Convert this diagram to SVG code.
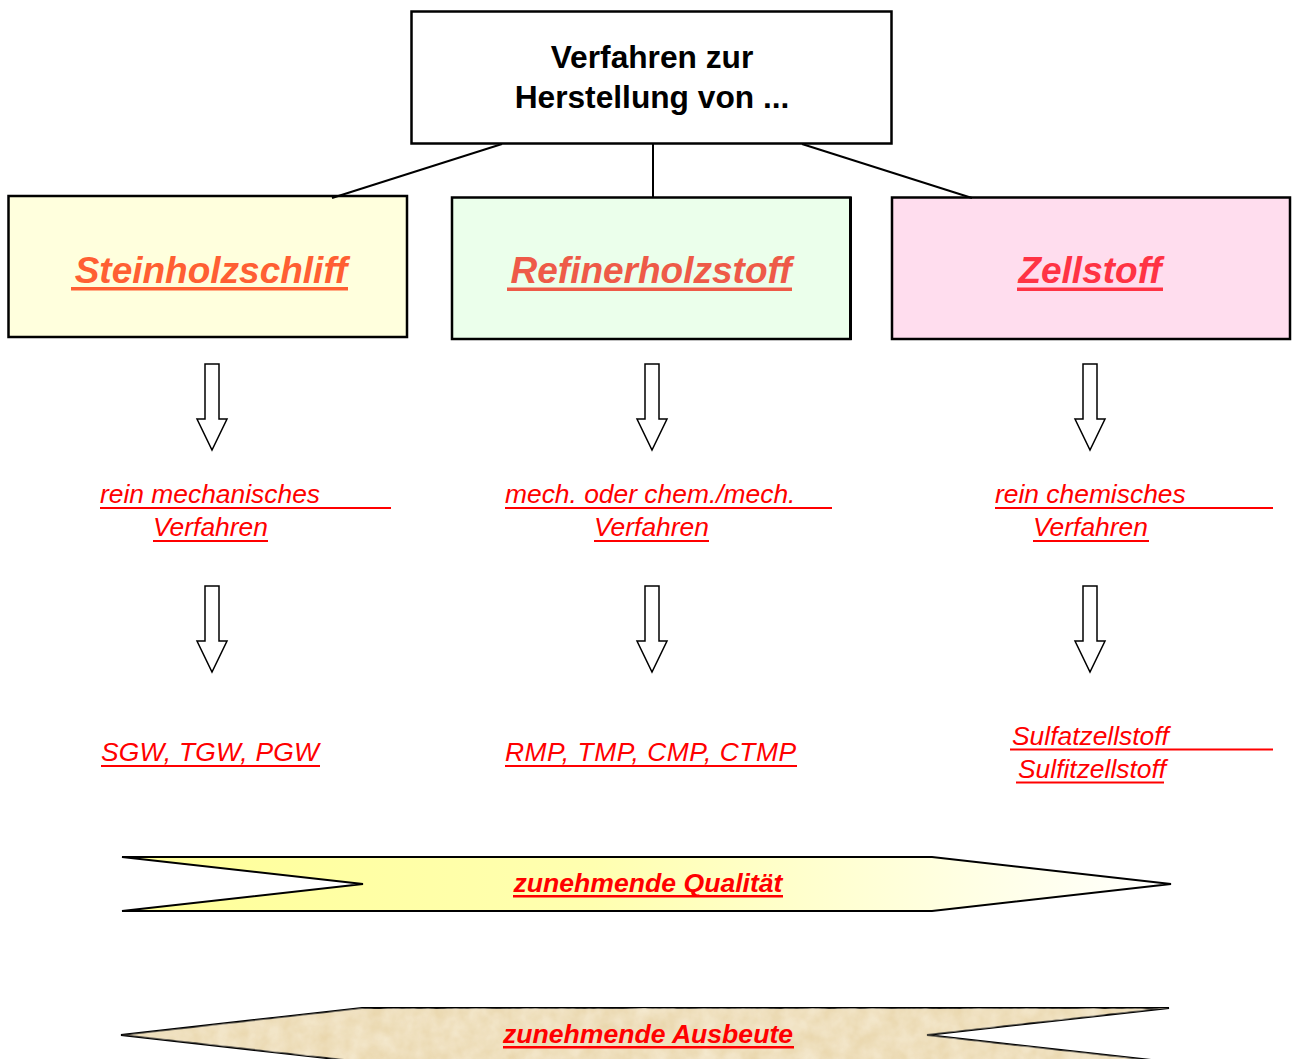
<svg xmlns="http://www.w3.org/2000/svg" width="1292" height="1059" viewBox="0 0 1292 1059">
<style>
.box{stroke:#000;stroke-width:2.5}
.title{font-family:"Liberation Sans",Arial,sans-serif;font-weight:bold;font-size:31.7px;text-anchor:middle;fill:#000}
.head{font-family:"Liberation Sans",Arial,sans-serif;font-weight:bold;font-style:italic;font-size:37px;text-anchor:middle}
.lbl{font-family:"Liberation Sans",Arial,sans-serif;font-style:italic;font-size:26.4px;fill:#FF0000}
.ul{stroke:#FF0000;stroke-width:2}
.band{font-family:"Liberation Sans",Arial,sans-serif;font-weight:bold;font-style:italic;font-size:26.6px;fill:#FF0000;text-anchor:middle}
.conn{stroke:#000;stroke-width:2;fill:none}
.harrow{fill:#fff;stroke:#000;stroke-width:1.5}
</style>
<defs>
<linearGradient id="gq" x1="0" y1="0" x2="1" y2="0">
<stop offset="0" stop-color="#FFFF99"/>
<stop offset="0.45" stop-color="#FFFFB0"/>
<stop offset="1" stop-color="#FFFFFF"/>
</linearGradient>
<filter id="paper" x="0" y="0" width="1" height="1">
<feTurbulence type="fractalNoise" baseFrequency="0.06" numOctaves="3" seed="4" result="n"/>
<feColorMatrix in="n" type="matrix" values="0 0 0 0 0.93  0 0 0 0 0.85  0 0 0 0 0.68  0 0 0 -1.2 1.1" result="c"/>
<feComposite in="c" in2="SourceGraphic" operator="in"/>
</filter>
<path id="ha" d="M-7,0 H7 V55 H15 L0,86 L-15,55 H-7 Z"/>
</defs>

<g id="top">
<rect class="box" x="411.5" y="11.5" width="480" height="132" fill="#fff"/>
<text class="title" x="652" y="68">Verfahren zur</text>
<text class="title" x="652" y="108">Herstellung von ...</text>
</g>

<g id="steinholzschliff">
<rect class="box" x="8.5" y="196" width="398.5" height="141" fill="#FFFFDD"/>
<text class="head" x="211" y="283" fill="#FF5F33">Steinholzschliff</text>
<rect x="71" y="287" width="277" height="3.5" fill="#FF5F33"/>
</g>

<g id="refinerholzstoff">
<rect class="box" x="452" y="197.5" width="398.5" height="141.5" fill="#EBFFEB"/>
<line x1="850.5" y1="197" x2="850.5" y2="340" stroke="#000" stroke-width="3"/>
<text class="head" x="651" y="283" fill="#EE5A48">Refinerholzstoff</text>
<rect x="507" y="287.5" width="285" height="3.5" fill="#EE5A48"/>
</g>

<g id="zellstoff">
<rect class="box" x="892" y="197.5" width="398" height="141.5" fill="#FFDDEE"/>
<text class="head" x="1090" y="283" fill="#FF3344">Zellstoff</text>
<rect x="1017" y="287.5" width="146" height="3.5" fill="#FF3344"/>
</g>

<g id="connectors">
<line class="conn" x1="502" y1="144" x2="332" y2="198"/>
<line class="conn" x1="653" y1="144" x2="653" y2="198"/>
<line class="conn" x1="802" y1="144" x2="972" y2="198"/>
</g>

<g id="arrows">
<use href="#ha" class="harrow" x="212" y="364"/>
<use href="#ha" class="harrow" x="652" y="364"/>
<use href="#ha" class="harrow" x="1090" y="364"/>
<use href="#ha" class="harrow" x="212" y="586"/>
<use href="#ha" class="harrow" x="652" y="586"/>
<use href="#ha" class="harrow" x="1090" y="586"/>
</g>

<g id="proc-mech">
<text class="lbl" x="100" y="503">rein mechanisches</text>
<line class="ul" x1="100" y1="508" x2="391" y2="508"/>
<text class="lbl" x="153" y="536">Verfahren</text>
<line class="ul" x1="153" y1="541" x2="268" y2="541"/>
</g>
<g id="proc-chemmech">
<text class="lbl" x="505" y="503">mech. oder chem./mech.</text>
<line class="ul" x1="505" y1="508" x2="832" y2="508"/>
<text class="lbl" x="594" y="536">Verfahren</text>
<line class="ul" x1="594" y1="541" x2="709" y2="541"/>
</g>
<g id="proc-chem">
<text class="lbl" x="995" y="503">rein chemisches</text>
<line class="ul" x1="995" y1="508" x2="1273" y2="508"/>
<text class="lbl" x="1033" y="536">Verfahren</text>
<line class="ul" x1="1033" y1="541" x2="1149" y2="541"/>
</g>

<g id="prod-sgw">
<text class="lbl" x="101" y="761" textLength="218" lengthAdjust="spacing">SGW, TGW, PGW</text>
<line class="ul" x1="101" y1="766" x2="320" y2="766"/>
</g>
<g id="prod-rmp">
<text class="lbl" x="505" y="761" textLength="291" lengthAdjust="spacing">RMP, TMP, CMP, CTMP</text>
<line class="ul" x1="505" y1="766" x2="797" y2="766"/>
</g>
<g id="prod-zell">
<text class="lbl" x="1012" y="745">Sulfatzellstoff</text>
<line class="ul" x1="1010" y1="749.5" x2="1273" y2="749.5"/>
<text class="lbl" x="1018" y="778">Sulfitzellstoff</text>
<line class="ul" x1="1016" y1="782.5" x2="1164" y2="782.5"/>
</g>

<g id="qualitaet">
<polygon points="122,857 932,857 1171,884 932,911 122,911 363,884" fill="url(#gq)" stroke="#000" stroke-width="2" stroke-linejoin="miter"/>
<text class="band" x="648" y="892">zunehmende Qualität</text>
<rect x="513" y="895" width="270" height="2.5" fill="#FF0000"/>
</g>

<g id="ausbeute">
<polygon points="121,1035 362,1008 1169,1008 927,1035 1169,1062 362,1062" fill="#E9D6AC" stroke="#000" stroke-width="2"/>
<polygon points="121,1035 362,1008 1169,1008 927,1035 1169,1062 362,1062" fill="#E9D6AC" filter="url(#paper)" opacity="0.8"/>
<text class="band" x="648" y="1043">zunehmende Ausbeute</text>
<rect x="503" y="1046" width="291" height="2.5" fill="#FF0000"/>
</g>
</svg>
